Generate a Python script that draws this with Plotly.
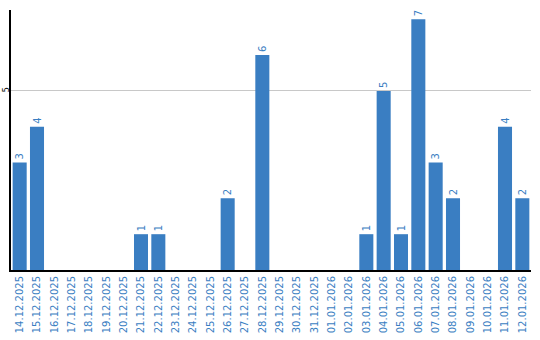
import plotly.graph_objects as go

dates = ["14.12.2025","15.12.2025","16.12.2025","17.12.2025","18.12.2025","19.12.2025",
         "20.12.2025","21.12.2025","22.12.2025","23.12.2025","24.12.2025","25.12.2025",
         "26.12.2025","27.12.2025","28.12.2025","29.12.2025","30.12.2025","31.12.2025",
         "01.01.2026","02.01.2026","03.01.2026","04.01.2026","05.01.2026","06.01.2026",
         "07.01.2026","08.01.2026","09.01.2026","10.01.2026","11.01.2026","12.01.2026"]
counts = [3,4,0,0,0,0,0,1,1,0,0,0,2,0,6,0,0,0,0,0,1,5,1,7,3,2,0,0,4,2]
y_ticks = [5]

labels = [str(v) if v > 0 else "" for v in counts]
blue = "#3a7ec2"

fig = go.Figure(go.Bar(
    x=dates, y=counts, marker_color=blue, marker_line_width=0,
    text=labels, textposition="outside", textangle=-90,
    textfont=dict(color=blue, size=10, family="DejaVu Sans"),
    cliponaxis=False,
))
fig.update_layout(
    width=540, height=340,
    margin=dict(l=11, r=9, t=10, b=70, autoexpand=False),
    plot_bgcolor="white", paper_bgcolor="white",
    bargap=0.19, showlegend=False,
    font=dict(family="DejaVu Sans"),
)
fig.update_xaxes(
    type="category", tickangle=-90, showline=True, linecolor="black", linewidth=2,
    tickfont=dict(color=blue, size=10), ticks="", showgrid=False, automargin=False,
)
fig.update_yaxes(
    range=[0, 7.26], tickvals=y_ticks, showline=True, linecolor="black", linewidth=2,
    gridcolor="#c8c8c8", zeroline=False, tickangle=-90, automargin=False,
    tickfont=dict(color="black", size=8), ticks="", ticklabelstandoff=-3,
)
fig.write_html("out.html")
